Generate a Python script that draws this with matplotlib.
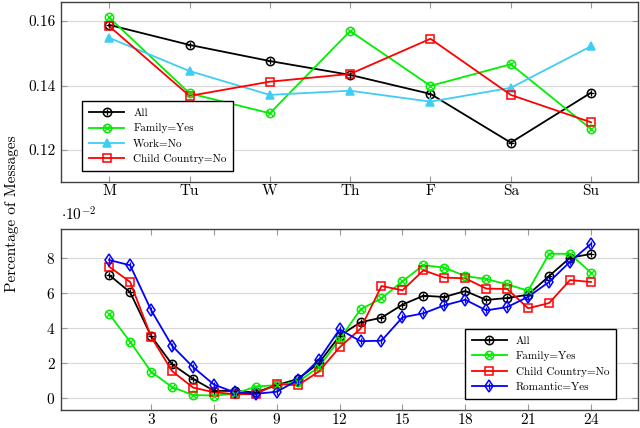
import matplotlib
matplotlib.use('Agg')
import matplotlib.pyplot as plt
from matplotlib.legend_handler import HandlerTuple

plt.rcParams['font.family'] = ['cmr10', 'DejaVu Serif']
plt.rcParams['mathtext.fontset'] = 'cm'
plt.rcParams['axes.formatter.use_mathtext'] = True

# weekly data
days = ['M', 'Tu', 'W', 'Th', 'F', 'Sa', 'Su']
day_all = [0.1588, 0.1526, 0.1476, 0.1433, 0.1374, 0.1223, 0.1378]
day_family = [0.1611, 0.1376, 0.1314, 0.1569, 0.1399, 0.1466, 0.1265]
day_work = [0.1548, 0.1445, 0.1371, 0.1384, 0.1350, 0.1393, 0.1522]
day_child = [0.1584, 0.1368, 0.1412, 0.1436, 0.1545, 0.1371, 0.1286]

# hourly data (x 10^-2)
hours = list(range(1, 25))
hour_all = [7.04, 6.05, 3.54, 1.92, 1.08, 0.40, 0.38, 0.30, 0.72, 1.07, 1.97, 3.55,
            4.33, 4.59, 5.34, 5.85, 5.78, 6.12, 5.61, 5.72, 5.91, 6.98, 8.03, 8.25]
hour_family = [4.80, 3.21, 1.49, 0.61, 0.15, 0.12, 0.22, 0.64, 0.72, 0.90, 1.75, 3.35,
               5.07, 5.70, 6.68, 7.61, 7.46, 6.98, 6.81, 6.50, 6.14, 8.26, 8.26, 7.17]
hour_child = [7.52, 6.64, 3.50, 1.53, 0.58, 0.31, 0.20, 0.20, 0.79, 0.71, 1.49, 2.89,
              3.96, 6.41, 6.16, 7.31, 6.89, 6.85, 6.26, 6.24, 5.13, 5.43, 6.75, 6.64]
hour_romantic = [7.90, 7.60, 5.03, 2.98, 1.76, 0.75, 0.30, 0.22, 0.34, 1.00, 2.16, 3.92,
                 3.24, 3.27, 4.61, 4.84, 5.30, 5.62, 5.01, 5.20, 5.79, 6.64, 7.80, 8.83]

GREEN = '#00ee00'
CYAN = '#40cdf2'
EDGE = '#404040'


def series(ax, x, y, color, marker, inner=None, fill=False):
    ms = 6
    h1, = ax.plot(x, y, color=color, lw=1.3, marker=marker, ms=ms,
                  mfc=color if fill else 'none', mec=color, mew=1.1, zorder=3)
    if inner is None:
        return (h1,)
    h2, = ax.plot(x, y, ls='none', marker=inner, ms=ms - 1.5, mec=color, mew=0.9, zorder=4)
    return (h1, h2)


def style(ax):
    ax.grid(axis='y', color='#d8d8d8', lw=0.8)
    ax.set_axisbelow(True)
    for s in ax.spines.values():
        s.set_color(EDGE)
        s.set_linewidth(1.0)
    ax.tick_params(direction='in', top=True, right=True, color='#999999',
                   length=4, labelsize=11, pad=2)
    ax.tick_params(axis='y', pad=4)


def add_legend(ax, handles, labels, loc, anchor):
    leg = ax.legend(handles, labels, handler_map={tuple: HandlerTuple(ndivide=1)},
                    loc=loc, bbox_to_anchor=anchor, fontsize=8,
                    fancybox=False, framealpha=1, edgecolor='black',
                    handlelength=3.2, borderpad=0.6, labelspacing=0.5)
    leg.get_frame().set_linewidth(1.0)
    return leg


fig = plt.figure(figsize=(6.4, 4.28), dpi=100)

ax1 = fig.add_axes([0.0953, 0.5748, 0.9017, 0.4205])
x = list(range(len(days)))
h = []
h.append(series(ax1, x, day_all, 'black', 'o', '+'))
h.append(series(ax1, x, day_family, GREEN, 'o', 'x'))
h.append(series(ax1, x, day_work, CYAN, '^', fill=True))
h.append(series(ax1, x, day_child, 'red', 's'))
ax1.set_xlim(-0.6, 6.585)
ax1.set_ylim(0.1101, 0.1659)
ax1.set_xticks(x)
ax1.set_xticklabels(days)
ax1.set_yticks([0.12, 0.14, 0.16])
ax1.set_yticklabels(['0.12', '0.14', '0.16'])
style(ax1)
add_legend(ax1, h, ['All', 'Family=Yes', 'Work=No', 'Child Country=No'],
           'lower left', (0.027, 0.03))

ax2 = fig.add_axes([0.0953, 0.0428, 0.9011, 0.4229])
h = []
h.append(series(ax2, hours, hour_all, 'black', 'o', '+'))
h.append(series(ax2, hours, hour_family, GREEN, 'o', 'x'))
h.append(series(ax2, hours, hour_child, 'red', 's'))
h.append(series(ax2, hours, hour_romantic, 'blue', 'd', '|'))
ax2.set_xlim(-1.3, 26.23)
ax2.set_ylim(-0.69, 9.70)
ax2.set_xticks([3, 6, 9, 12, 15, 18, 21, 24])
ax2.set_yticks([0, 2, 4, 6, 8])
style(ax2)
ax2.text(0.0, 1.03, r'$\cdot 10^{-2}$', transform=ax2.transAxes, fontsize=11,
         ha='left', va='bottom')
add_legend(ax2, h, ['All', 'Family=Yes', 'Child Country=No', 'Romantic=Yes'],
           'lower right', (0.972, 0.03))

fig.text(0.019, 0.5, 'Percentage of Messages', rotation=90, ha='center',
         va='center', fontsize=11)

fig.savefig('out.png', dpi=100)
